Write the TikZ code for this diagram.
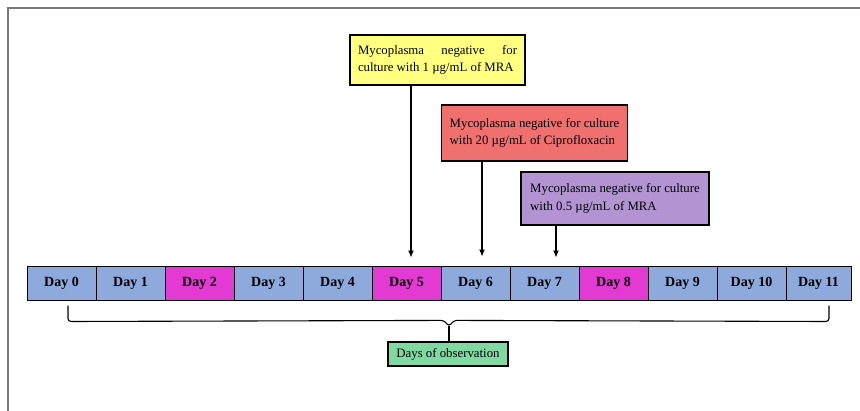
\documentclass[tikz,border=0pt]{standalone}
\usepackage{fontspec}
\setmainfont{Liberation Serif}
\usetikzlibrary{arrows.meta,calc}
\definecolor{dayblue}{RGB}{142,169,219}
\definecolor{daymag}{RGB}{226,58,210}
\definecolor{boxyel}{RGB}{255,255,128}
\definecolor{boxred}{RGB}{240,112,112}
\definecolor{boxpur}{RGB}{178,148,210}
\definecolor{boxgrn}{RGB}{128,216,162}
\definecolor{framegray}{RGB}{120,120,120}
\tikzset{
  daycell/.style={draw=black, line width=1pt, minimum height=34pt, inner sep=0pt,
    font=\fontsize{14}{16}\selectfont\bfseries, anchor=center},
  note/.style={draw=black, line width=1.2pt, inner xsep=8pt, inner ysep=4pt,
    font=\fontsize{12.8}{17.5}\selectfont, anchor=center, align=left},
  arr/.style={line width=1.1pt, -{Latex[length=7pt,width=6pt]}},
  brace/.style={line width=1.1pt, rounded corners=3pt},
}
\begin{document}
\begin{tikzpicture}[x=1pt,y=-1pt]
\useasboundingbox (0,0) rectangle (860,410);
% frame
\draw[framegray, line width=1.5pt] (8,412) -- (8,8) -- (862,8);
% day cells
\foreach \i/\c in {0/dayblue,1/dayblue,2/daymag,3/dayblue,4/dayblue,5/daymag,6/dayblue,7/dayblue,8/daymag,9/dayblue,10/dayblue}{
  \node[daycell, fill=\c, minimum width=69pt] (c\i) at ({27+69*\i+34.5},283) {Day \i};
}
\node[daycell, fill=dayblue, minimum width=65pt] (c11) at (818.5,283) {Day 11};
% notes
\node[note, fill=boxyel, minimum width=175pt, minimum height=50pt] (yel) at (437.5,60)
  {\hbox to 159pt{Mycoplasma\hfill negative\hfill for}\\culture with 1 µg/mL of MRA};
\node[note, fill=boxred, minimum width=185pt, minimum height=56pt] (red) at (534.5,133)
  {Mycoplasma negative for culture\\with 20 µg/mL of Ciprofloxacin};
\node[note, fill=boxpur, minimum width=188pt, minimum height=53pt] (pur) at (615,198.5)
  {Mycoplasma negative for culture\\with 0.5 µg/mL of MRA};
\node[note, fill=boxgrn, minimum width=120pt, minimum height=24pt, inner ysep=2pt] (obs) at (448,354)
  {Days of observation};
% arrows
\draw[arr] ([xshift=4.5pt]c5.north |- yel.south) -- ([xshift=4.5pt,yshift=8pt]c5.north);
\draw[arr] ([xshift=6.5pt]c6.north |- red.south) -- ([xshift=6.5pt,yshift=9pt]c6.north);
\draw[arr] ([xshift=11.5pt]c7.north |- pur.south) -- ([xshift=11.5pt,yshift=8pt]c7.north);
% brace
\coordinate (bl) at ([xshift=6.5pt,yshift=-5pt]c0.south);
\coordinate (br) at ([xshift=10.5pt,yshift=-5pt]c11.south);
\coordinate (tip) at ($(obs.north)+(1,-15)$);
\draw[brace] (bl) -- ++(0,16) -- ($(tip)+(-5,-6)$) -- (tip) -- ($(tip)+(5,-6)$) -- ($(br)+(0,16)$) -- (br);
\draw[line width=1.1pt] (tip) -- (tip |- obs.north);
\end{tikzpicture}
\end{document}
